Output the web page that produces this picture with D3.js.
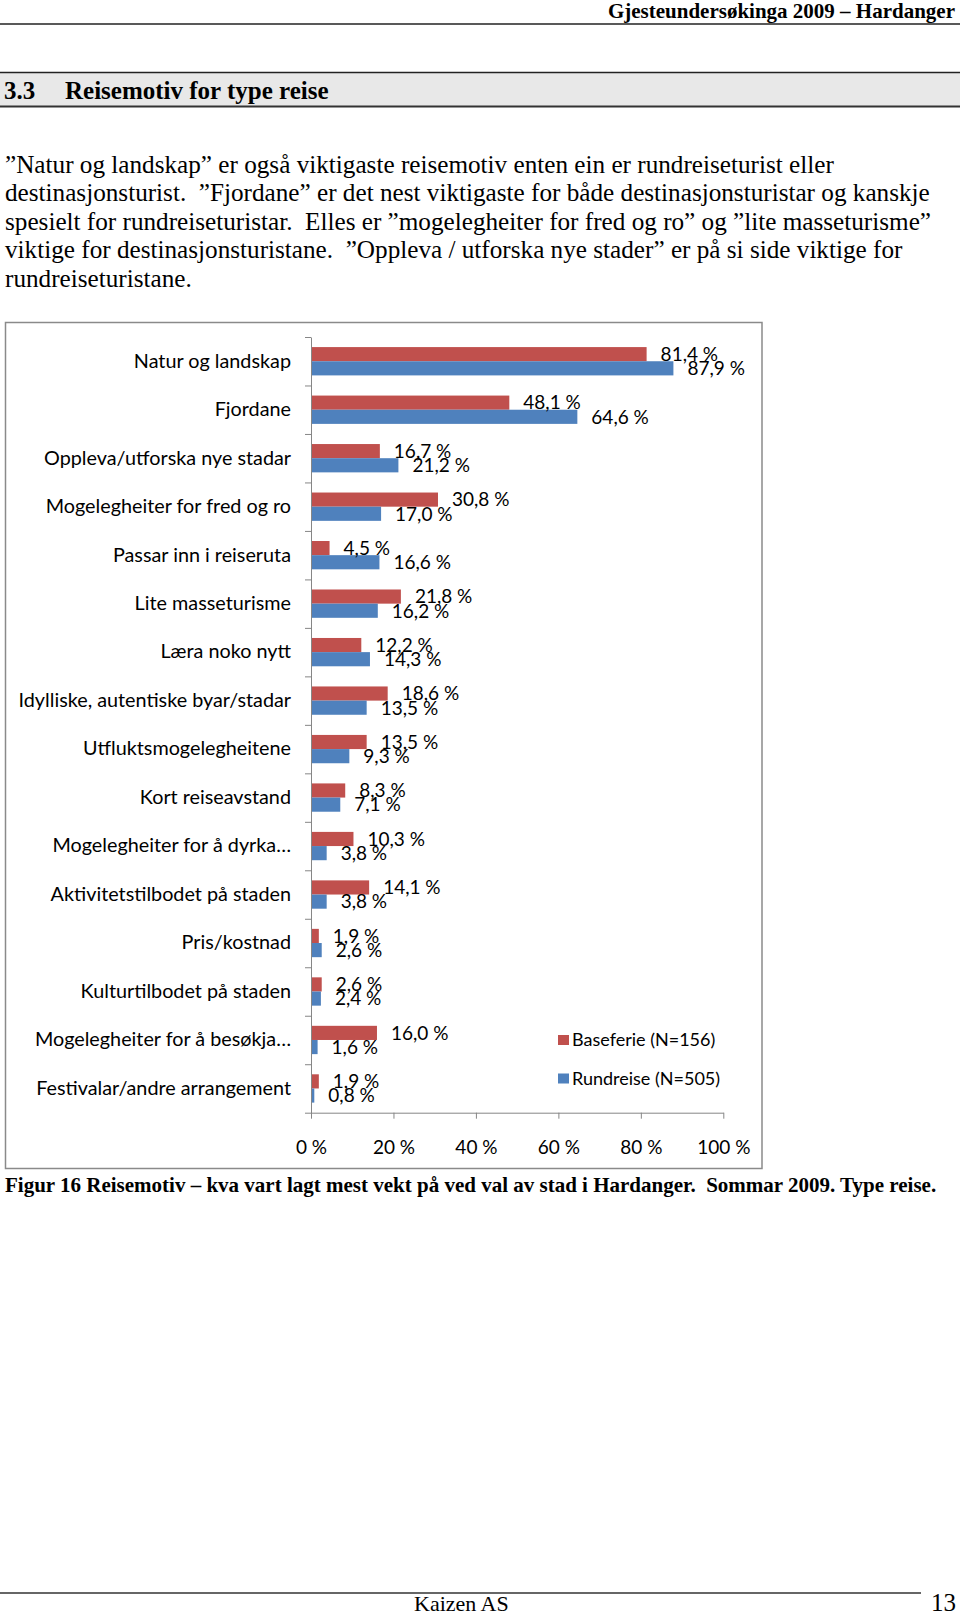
<!DOCTYPE html>
<html><head><meta charset="utf-8">
<script src="https://cdn.jsdelivr.net/npm/d3@7/dist/d3.min.js"></script>
<style>
html,body{margin:0;padding:0;background:#fff;}
svg{display:block;}
.serif{font-family:"Liberation Serif","Times New Roman",serif;}
.sans{font-family:Lato,"Open Sans",sans-serif;}
</style></head>
<body>
<svg id="page" width="960" height="1613"></svg>
<script>
const categories = [
  "Natur og landskap","Fjordane","Oppleva/utforska nye stadar","Mogelegheiter for fred og ro",
  "Passar inn i reiseruta","Lite masseturisme","Læra noko nytt","Idylliske, autentiske byar/stadar",
  "Utfluktsmogelegheitene","Kort reiseavstand","Mogelegheiter for å dyrka…","Aktivitetstilbodet på staden",
  "Pris/kostnad","Kulturtilbodet på staden","Mogelegheiter for å besøkja…","Festivalar/andre arrangement"
];
const baseferie = [81.4,48.1,16.7,30.8,4.5,21.8,12.2,18.6,13.5,8.3,10.3,14.1,1.9,2.6,16.0,1.9];
const rundreise = [87.9,64.6,21.2,17.0,16.6,16.2,14.3,13.5,9.3,7.1,3.8,3.8,2.6,2.4,1.6,0.8];
const seriesNames = ["Baseferie (N=156)","Rundreise (N=505)"];
const xTicks = [0,20,40,60,80,100];

const headerText = "Gjesteundersøkinga 2009 – Hardanger";
const sectionNo = "3.3";
const sectionTitle = "Reisemotiv for type reise";
const bodyLines = [
  "”Natur og landskap” er også viktigaste reisemotiv enten ein er rundreiseturist eller",
  "destinasjonsturist.  ”Fjordane” er det nest viktigaste for både destinasjonsturistar og kanskje",
  "spesielt for rundreiseturistar.  Elles er ”mogelegheiter for fred og ro” og ”lite masseturisme”",
  "viktige for destinasjonsturistane.  ”Oppleva / utforska nye stader” er på si side viktige for",
  "rundreiseturistane."
];
const caption = "Figur 16 Reisemotiv – kva vart lagt mest vekt på ved val av stad i Hardanger.  Sommar 2009. Type reise.";
const footerLeft = "Kaizen AS";
const footerRight = "13";

const colors = ["#C0504D","#4F81BD"];
const svg = d3.select("#page");

// ---- page furniture ----
svg.append("text").attr("class","serif").attr("x",955).attr("y",18)
  .attr("text-anchor","end").attr("font-size",21).attr("font-weight","bold").text(headerText);
svg.append("line").attr("x1",0).attr("x2",960).attr("y1",24).attr("y2",24)
  .attr("stroke","#222").attr("stroke-width",1.5);

svg.append("rect").attr("x",0).attr("y",72.5).attr("width",960).attr("height",34).attr("fill","#e8e8e8");
svg.append("line").attr("x1",0).attr("x2",960).attr("y1",72.5).attr("y2",72.5).attr("stroke","#222").attr("stroke-width",1.5);
svg.append("line").attr("x1",0).attr("x2",960).attr("y1",106.5).attr("y2",106.5).attr("stroke","#333").attr("stroke-width",2);
svg.append("text").attr("class","serif").attr("x",4).attr("y",99).attr("font-size",25).attr("font-weight","bold").text(sectionNo);
svg.append("text").attr("class","serif").attr("x",65).attr("y",99).attr("font-size",25).attr("font-weight","bold").text(sectionTitle);

svg.append("g").selectAll("text").data(bodyLines).join("text")
  .attr("class","serif").attr("x",5).attr("y",(d,i)=>172.7+i*28.5)
  .attr("font-size",25.2).style("white-space","pre").text(d=>d);

svg.append("text").attr("class","serif").attr("x",5).attr("y",1192)
  .attr("font-size",21).attr("font-weight","bold").style("white-space","pre").text(caption);

svg.append("line").attr("x1",0).attr("x2",921).attr("y1",1593).attr("y2",1593).attr("stroke","#333").attr("stroke-width",1.5);
svg.append("text").attr("class","serif").attr("x",414).attr("y",1611).attr("font-size",22).text(footerLeft);
svg.append("text").attr("class","serif").attr("x",931).attr("y",1611).attr("font-size",25).text(footerRight);

// ---- chart ----
svg.append("rect").attr("x",5.5).attr("y",322.5).attr("width",756.5).attr("height",846)
  .attr("fill","#fff").attr("stroke","#8a8a8a").attr("stroke-width",1.5);

const x0 = 311, x1 = 723.3, yTop = 337, yBot = 1112.7;
const x = d3.scaleLinear().domain([0,100]).range([x0,x1]);
const y = d3.scaleBand().domain(categories).range([yTop,yBot]).paddingInner(0.416).paddingOuter(0.208);
const ySub = d3.scaleBand().domain(seriesNames).range([0,y.bandwidth()]);
const yEdge = d3.scaleLinear().domain([0,categories.length]).range([yTop,yBot]);

const rows = categories.map((c,i)=>({cat:c, vals:[baseferie[i], rundreise[i]]}));
const g = svg.append("g");

// bars
rows.forEach(r=>{
  r.vals.forEach((v,j)=>{
    g.append("rect").attr("x",x(0)).attr("y",y(r.cat)+ySub(seriesNames[j]))
      .attr("width",x(v)-x(0)).attr("height",ySub.bandwidth()).attr("fill",colors[j]);
  });
});

// axes
const yAxisTicks = svg.append("g").attr("transform",`translate(${x0},0)`)
  .call(d3.axisLeft(yEdge).tickValues(d3.range(categories.length+1)).tickFormat("").tickSize(6).tickSizeOuter(0));
yAxisTicks.selectAll("line,path").attr("stroke","#868686");

const xAxis = svg.append("g").attr("transform",`translate(0,${yBot})`)
  .call(d3.axisBottom(x).tickValues(xTicks).tickFormat(d=>d+" %").tickSize(6).tickSizeOuter(0));
xAxis.selectAll("line,path").attr("stroke","#868686");
xAxis.selectAll("text").attr("class","sans").attr("font-size",19).attr("fill","#000")
  .attr("y",34).attr("dy","0.36em");

const yLab = svg.append("g").attr("transform",`translate(${x0},0)`)
  .call(d3.axisLeft(y).tickSize(0).tickPadding(20));
yLab.select(".domain").remove();
yLab.selectAll("text").attr("class","sans").attr("font-size",19.8).attr("fill","#000");

// data labels
rows.forEach(r=>{
  r.vals.forEach((v,j)=>{
    g.append("text").attr("class","sans").attr("font-size",19)
      .attr("x",x(v)+14).attr("y",y(r.cat)+ySub(seriesNames[j])+ySub.bandwidth()/2)
      .attr("dy","0.36em").text(d3.format(".1f")(v).replace(".",",")+" %");
  });
});

// legend
const leg = svg.append("g").attr("transform","translate(558,1035)");
seriesNames.forEach((s,j)=>{
  leg.append("rect").attr("x",0).attr("y",j*38.5).attr("width",11).attr("height",10).attr("fill",colors[j]);
  leg.append("text").attr("class","sans").attr("font-size",18).attr("x",14).attr("y",j*38.5+5)
    .attr("dy","0.36em").text(s);
});
</script>
</body></html>
